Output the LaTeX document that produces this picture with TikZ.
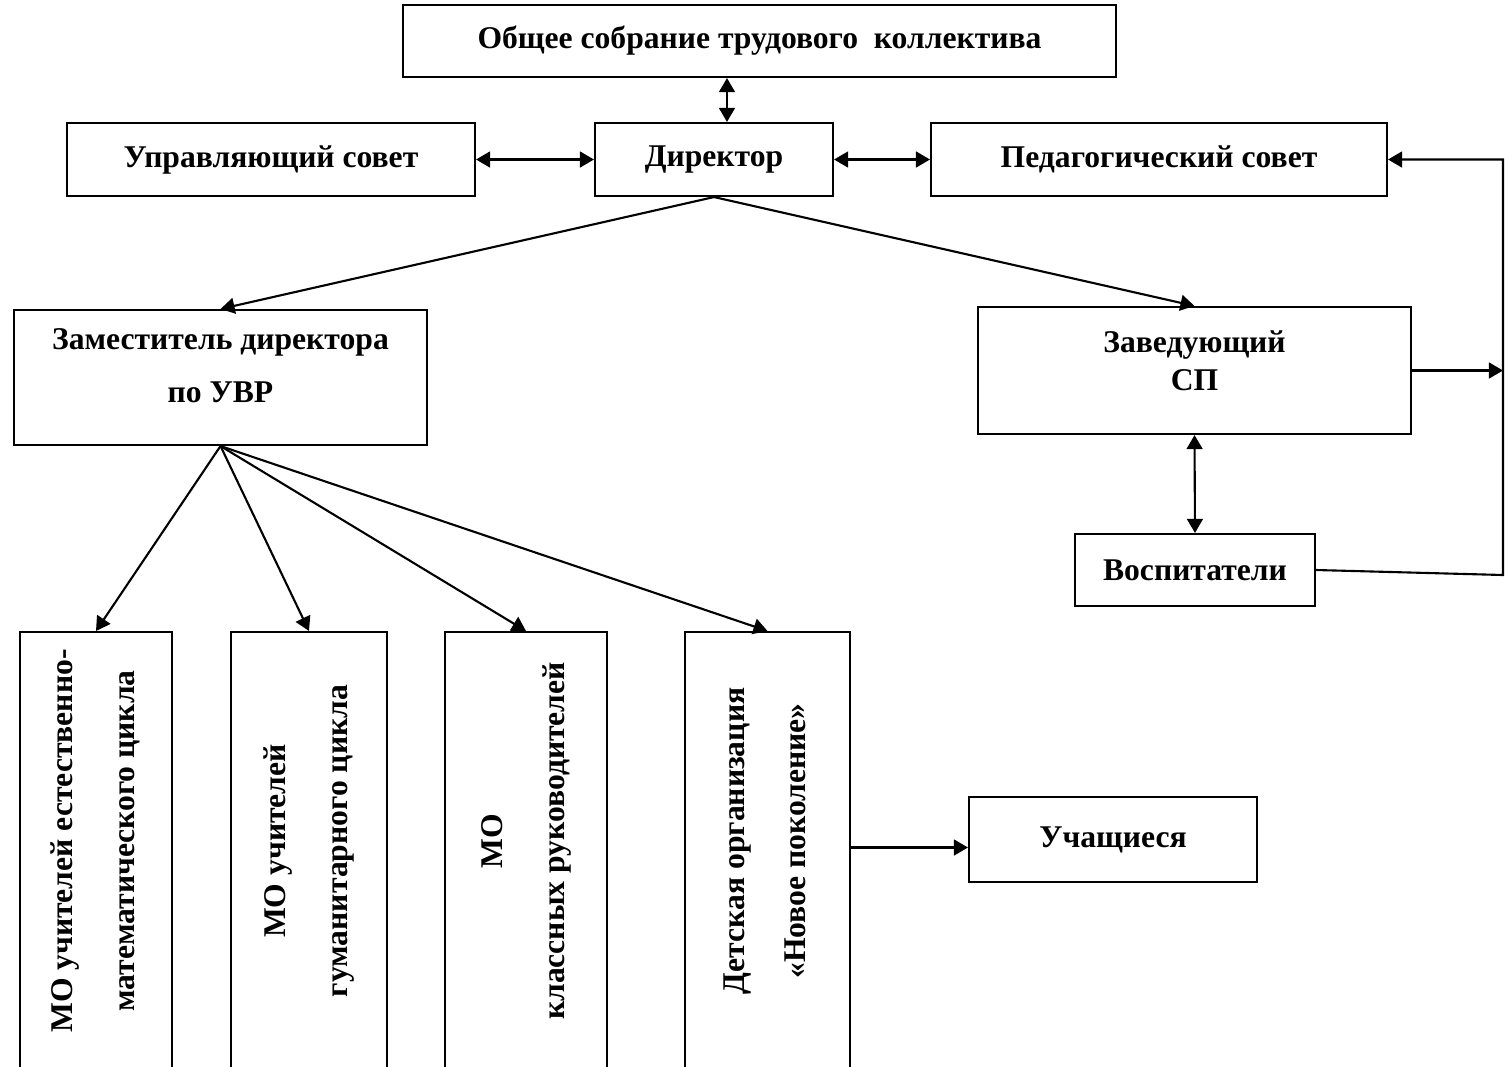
\documentclass[tikz,border=0pt]{standalone}
\usepackage{fontspec}
\usepackage{graphicx}
\setmainfont{Liberation Serif}
\usetikzlibrary{arrows.meta}
\begin{document}
\begin{tikzpicture}[x=0.02cm, y=-0.02cm, very thick, main/.style = {draw, rectangle, inner sep=0pt, align=center, font=\bfseries\fontsize{18}{22}\selectfont}, link/.style = {-{Triangle[length=8pt,width=9pt]}}, both/.style = {{Triangle[length=8pt,width=9pt]}-{Triangle[length=8pt,width=9pt]}}]
		\useasboundingbox (0,0) rectangle (1505,1066);
		\node[main, minimum width=14.26cm, minimum height=1.44cm] (1) at (759.5,41) {Общее собрание трудового\ \ коллектива};
		\node[main, minimum width=8.16cm, minimum height=1.46cm] (2) at (271,159.5) {Управляющий совет};
		\node[main, minimum width=4.76cm, minimum height=1.46cm] (3) at (714,159.5) {Директор};
		\node[main, minimum width=9.12cm, minimum height=1.46cm] (4) at (1159,159.5) {Педагогический совет};
		\node[main, minimum width=8.26cm, minimum height=2.70cm] (5) at (220.5,377.5) {Заместитель директора\\[8pt] по УВР\\[-8.4pt]};
		\node[main, minimum width=8.66cm, minimum height=2.54cm] (6) at (1194.5,370.5) {Заведующий\\СП\\[-10.6pt]};
		\node[main, minimum width=4.80cm, minimum height=1.44cm] (7) at (1195,570) {Воспитатели};
		\node[main, minimum width=3.04cm, minimum height=8.96cm] (8) at (96,856) {\rotatebox{90}{\hspace*{0.6cm}\begin{tabular}{c}МО учителей естественно-\\[13pt] математического цикла\end{tabular}}};
		\node[main, minimum width=3.12cm, minimum height=8.96cm] (9) at (309,856) {\rotatebox{90}{\hspace*{0.6cm}\begin{tabular}{c}МО учителей\\[13pt] гуманитарного цикла\end{tabular}}};
		\node[main, minimum width=3.24cm, minimum height=8.96cm] (10) at (526,856) {\rotatebox{90}{\hspace*{0.6cm}\begin{tabular}{c}МО\\[13pt] классных руководителей\end{tabular}}};
		\node[main, minimum width=3.30cm, minimum height=8.96cm] (11) at (767.5,856) {\rotatebox{90}{\hspace*{0.6cm}\begin{tabular}{c}Детская организация\\[13pt] «Новое поколение»\end{tabular}}};
		\node[main, minimum width=5.76cm, minimum height=1.70cm] (12) at (1113,839.5) {Учащиеся};
		\coordinate (r1) at (1503,372);
		\coordinate (r2) at (1503,575);
		\draw[both] ([xshift=0.26cm]3.north) -- ([xshift=0.26cm]3.north |- 1.south);
		\draw[both] (2.east) -- (3.west);
		\draw[both] (3.east) -- (4.west);
		\draw[link] (3.south) -- (5.north);
		\draw[link] (3.south) -- (6.north);
		\draw[link] (5.south) -- (8.north);
		\draw[link] (5.south) -- (9.north);
		\draw[link] (5.south) -- (10.north);
		\draw[link] (5.south) -- (11.north);
		\draw[both] (6.south) -- (7.north);
		\draw[link] (6.east) -- (6.east -| r1);
		\draw[link] (7.east) -- (r2) -- (r2 |- 4.east) -- (4.east);
		\draw[link] ([yshift=-0.16cm]12.west -| 11.east) -- ([yshift=-0.16cm]12.west);
\end{tikzpicture}
\end{document}
